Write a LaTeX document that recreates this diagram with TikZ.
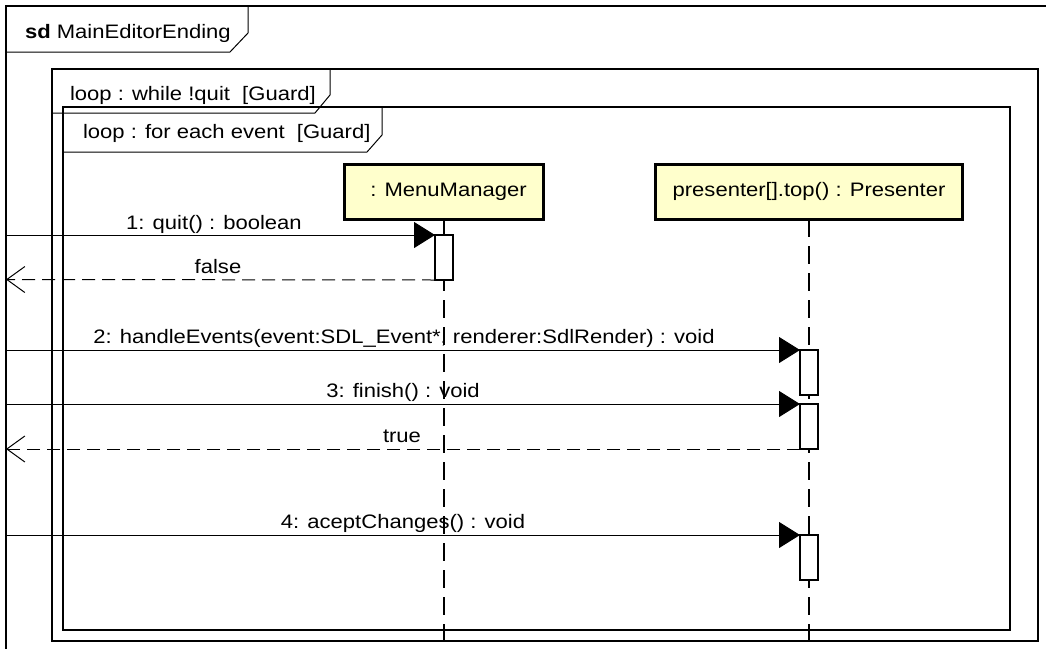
\documentclass[tikz,border=0pt]{standalone}
\usepackage{fontspec}
\setmainfont{Liberation Sans}[FakeStretch=1.13]
\usetikzlibrary{arrows.meta}
\definecolor{llfill}{RGB}{255,255,204}
\begin{document}
\begin{tikzpicture}[x=1pt,y=-1pt,
  every node/.style={font=\fontsize{19.5pt}{23pt}\selectfont, inner sep=0pt, outer sep=0pt},
  frameline/.style={line width=2pt},
  headline/.style={line width=1pt},
  lifebox/.style={draw, line width=3pt, fill=llfill, minimum height=55pt},
  lifeline/.style={line width=1.3pt, dash pattern=on 18pt off 9pt},
  actbox/.style={draw, line width=1.6pt, fill=white, minimum width=18pt, minimum height=45pt, anchor=north west},
  msg/.style={line width=1pt, -{Triangle[length=21pt,width=26pt]}},
  ret/.style={line width=1pt, dash pattern=on 13pt off 7pt, -{Straight Barb[length=18pt,width=26pt]}},
  lbl/.style={anchor=base},
]
\useasboundingbox (0,0) rectangle (1046,648);
\fill[white] (0,0) rectangle (1046,648);

% frames
\draw[frameline] (6,660) -- (6,6) -- (1060,6);
\draw[headline] (6,52) -- (230,52) -- (248,33) -- (248,6);
\node[anchor=base west] (sdlbl) at (25,38) {\textbf{sd} MainEditorEnding};

\draw[frameline] (52,69) rectangle (1038,641);
\draw[headline] (52,113) -- (315,113) -- (330,95) -- (330,69);
\node[anchor=base west] (loop1lbl) at (70,100) {loop : while !quit~~[Guard]};

\draw[frameline] (63,107) rectangle (1010,630);
\draw[headline] (63,152) -- (367,152) -- (382,135) -- (382,107);
\node[anchor=base west] (loop2lbl) at (83,138) {loop : for each event~~[Guard]};

% lifelines
\node[lifebox, minimum width=199pt] (mm) at (444,191.5) {\hspace*{9pt}: MenuManager};
\node[lifebox, minimum width=307pt] (pr) at (809,191.5) {presenter[].top() : Presenter};
\coordinate (mmend) at (444,660);
\coordinate (prend) at (809,660);
\draw[lifeline] (mm.south) -- (mmend);
\draw[lifeline] (pr.south) -- (prend);

% activations
\node[actbox] (a1) at (435,235) {};
\node[actbox] (a2) at (800,350) {};
\node[actbox] (a3) at (800,404) {};
\node[actbox] (a4) at (800,535) {};

% free ends on frame
\coordinate (s1) at (6,235);
\coordinate (r1) at (6,279.5);
\coordinate (s2) at (6,350);
\coordinate (s3) at (6,404);
\coordinate (r3) at (6,449);
\coordinate (s4) at (6,535);

% messages
\draw[msg] (s1) -- (a1.north west);
\draw[ret] (a1.south west) -- (r1);
\draw[msg] (s2) -- (a2.north west);
\draw[msg] (s3) -- (a3.north west);
\draw[ret] (a3.south west) -- (r3);
\draw[msg] (s4) -- (a4.north west);

% labels
\node[lbl] (l1) at (214,229) {1: quit() : boolean};
\node[lbl] (l1r) at (218,273) {false};
\node[lbl] (l2) at (404,343) {2: handleEvents(event:SDL\_Event*, renderer:SdlRender) : void};
\node[lbl] (l3) at (403,397) {3: finish() : void};
\node[lbl] (l3r) at (402,442) {true};
\node[lbl] (l4) at (403,528) {4: aceptChanges() : void};
\end{tikzpicture}
\end{document}
